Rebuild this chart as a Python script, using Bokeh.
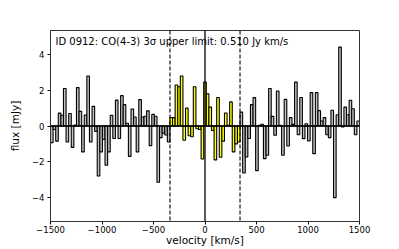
import numpy as np
from bokeh.plotting import figure
from bokeh.models import Span, Label, Range1d, FixedTicker
from bokeh.embed import file_html
from bokeh.resources import INLINE

# ---- data ----
v_min, v_max = -1500.0, 1500.0
n_chan = 119
flux_left = [-0.93, -0.2, -0.85, 0.72, 0.6, 2.1, -0.9, 0.7, -1.2, 0.05,
             2.15, 0.82, -1.45, 0.62, 2.8, -0.9, 1.1, -0.3, -2.8, -1.45,
             -0.75, -2.2, -1.45, 0.6, -0.7, 1.45, -0.7, 1.7, 1.2, 0.15,
             -1.7, 0.95, 0.5, -1.45, 1.48, 0.5, 0.55, 0.85, -1.1, 0.65,
             0.55, -3.15, -0.65, -0.4, -0.5, -0.9]
flux_mid = [0.47, 0.47, 2.3, 2.2, 2.8, -0.8, 1.0, -0.55, -0.6, 2.2,
            -0.15, -0.2, -1.85, 2.46, 1.8, 1.06, -0.25, -1.9, 1.6, -1.75,
            -0.85, 0.73, 0.04, 1.35, -1.45, -1.0, -0.9]
flux_right = [0.78, -2.63, -1.74, -0.7, 1.2, 1.59, -2.5, 0.04, 0.1, -1.83,
              -1.64, 2.1, 0.54, -0.52, 1.96, 0.04, -1.64, 1.49, -1.12, 0.47,
              0.09, 2.46, -0.49, 1.6, -0.71, 0.13, -0.84, 1.87, -1.55, 1.87,
              0.86, 0.28, 0.47, -0.49, -0.65, 0.88, -4.01, 0.63, 4.42, -0.06,
              1.06, 0.63, 1.44, 0.97, -0.49, 0.28]
window = 340.0
title = "ID 0912: CO(4-3) 3\u03c3 upper limit: 0.510 Jy km/s"
x_ticks = [-1500, -1000, -500, 0, 500, 1000, 1500]
x_tick_labels = ["\u22121500", "\u22121000", "\u2212500", "0", "500", "1000", "1500"]
y_ticks = [-4, -2, 0, 2, 4]
y_tick_labels = ["\u22124", "\u22122", "0", "2", "4"]

flux = np.array(flux_left + flux_mid + flux_right)
dv = (v_max - v_min) / n_chan
left = v_min + dv * np.arange(n_chan)
right = left + dv
center = 0.5 * (left + right)
colors = ["#ffff00" if abs(c) < window else "#bfbfbf" for c in center]

FONT = "DejaVu Sans"
p = figure(frame_width=309, frame_height=191,
           x_range=Range1d(v_min, v_max), y_range=Range1d(-5.35, 5.35),
           output_backend="svg", toolbar_location=None,
           min_border_left=50, min_border_top=30, min_border_right=30,
           min_border_bottom=26)
p.background_fill_color = "white"
p.border_fill_color = "white"
p.grid.visible = False
p.outline_line_color = "#333333"
p.outline_line_width = 1

p.quad(left=left, right=right, bottom=0, top=flux, fill_color=colors,
       line_color="black", line_width=1.1)

p.add_layout(Span(location=0, dimension="width", line_color="black", line_width=1.3))
p.add_layout(Span(location=0, dimension="height", line_color="black", line_width=1.3))
p.add_layout(Span(location=-window, dimension="height", line_color="black",
                  line_width=1.1, line_dash="4 2"))
p.add_layout(Span(location=window, dimension="height", line_color="black",
                  line_width=1.1, line_dash="4 2"))

p.add_layout(Label(x=-1452, y=4.72, text=title, text_font=FONT,
                   text_font_size="10px", text_color="black",
                   text_baseline="alphabetic"))

p.xaxis.ticker = FixedTicker(ticks=x_ticks)
p.yaxis.ticker = FixedTicker(ticks=y_ticks)
p.xaxis.major_label_overrides = dict(zip(x_ticks, x_tick_labels))
p.yaxis.major_label_overrides = dict(zip(y_ticks, y_tick_labels))
p.xaxis.axis_label = "velocity [km/s]"
p.yaxis.axis_label = "flux [mJy]"
for ax in (p.xaxis, p.yaxis):
    ax.axis_label_text_font = FONT
    ax.axis_label_text_font_size = "10.5px"
    ax.axis_label_text_font_style = "normal"
    ax.axis_label_text_color = "black"
    ax.major_label_text_font = FONT
    ax.major_label_text_font_size = "8.5px"
    ax.major_label_text_color = "black"
    ax.major_tick_in = 0
    ax.major_tick_out = 3
    ax.major_tick_line_color = "black"
    ax.minor_tick_line_color = None
    ax.axis_line_color = "#333333"
p.xaxis.major_label_standoff = 1
p.yaxis.major_label_standoff = 3
p.xaxis.axis_label_standoff = -2
p.yaxis.axis_label_standoff = 8

open("out.html", "w").write(file_html(p, INLINE))
